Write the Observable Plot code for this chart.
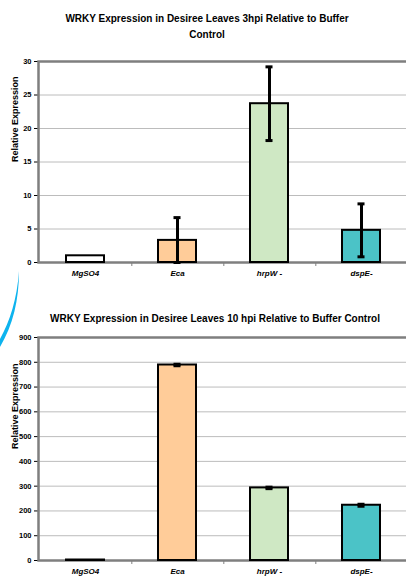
<!DOCTYPE html>
<html>
<head>
<meta charset="utf-8">
<script src="https://cdn.jsdelivr.net/npm/d3@7"></script>
<script src="https://cdn.jsdelivr.net/npm/@observablehq/plot@0.6"></script>
<style>
  html, body { margin: 0; padding: 0; background: #fff; overflow: hidden; }
  #root { position: relative; width: 406px; height: 579px; overflow: hidden; background: #fff;
          font-family: "Liberation Sans", Arial, sans-serif; }
  .title { position: absolute; text-align: center; font-weight: bold; font-size: 10px; color: #000; white-space: nowrap; }
  .chart { position: absolute; left: 0; width: 412px; }
</style>
</head>
<body>
<div id="root">
  <div class="title" style="left:0;width:414px;top:11px;line-height:16px;">WRKY Expression in Desiree Leaves 3hpi Relative to Buffer<br>Control</div>
  <div class="title" style="left:0;width:430px;top:313px;line-height:12px;">WRKY Expression in Desiree Leaves 10 hpi Relative to Buffer Control</div>
  <div id="c1" class="chart" style="top:50px"></div>
  <div id="c2" class="chart" style="top:326px"></div>
  <svg style="position:absolute;left:0;top:255px" width="40" height="100">
    <path d="M19,16 C19,45 13,70 0,92 L0,84 C10,66 17,44 19,16 Z" fill="#0db3ee"/>
  </svg>
</div>
<script>
const categories = ["MgSO4", "Eca", "hrpW -", "dspE-"];
const colors = ["#ffffff", "#ffcc99", "#cfe8c4", "#4bc3c7"];
const values3 = [1, 3.3, 23.7, 4.8];
const errors3 = [0, 3.4, 5.5, 3.95];
const values10 = [2, 789, 293, 223];
const errors10 = [0, 3, 3, 4];
const yTicks3 = [0, 5, 10, 15, 20, 25, 30];
const yTicks10 = [0, 100, 200, 300, 400, 500, 600, 700, 800, 900];

function build(values, errors, ticks, plotH) {
  const data = categories.map((c, i) => ({cat: c, v: values[i], e: errors[i], color: colors[i]}));
  const withErr = data.filter(d => d.e > 0);
  const width = 412, marginLeft = 38, marginRight = 3.5;
  const step = (width - marginLeft - marginRight) / categories.length;
  const capInset = (step * 0.41 - 7) / 2;
  const y0 = ticks[0];
  return Plot.plot({
    width, height: plotH + 31,
    marginLeft, marginRight, marginTop: 11, marginBottom: 20,
    style: {fontFamily: "'Liberation Sans', Arial, sans-serif", fontSize: "7.5px", fontWeight: "bold", color: "#000", maxWidth: "none"},
    x: {domain: categories, paddingInner: 0.59, paddingOuter: 0.295, axis: null},
    y: {domain: [y0, ticks[ticks.length - 1]], ticks, label: null, tickSize: 4, tickPadding: 3},
    marks: [
      Plot.gridY(ticks, {stroke: "#bcbcbc", strokeOpacity: 1, strokeWidth: 1}),
      Plot.frame({stroke: "#7f7f7f", strokeWidth: 2.5}),
      Plot.ruleX(categories.slice(0, -1), {x: d => d, dx: step / 2, y1: y0, y2: y0, insetBottom: -4, stroke: "#7f7f7f", strokeWidth: 1}),
      Plot.barY(data, {x: "cat", y: "v", fill: "color", stroke: "#000", strokeWidth: 2}),
      Plot.ruleX(withErr, {x: "cat", y1: d => Math.max(y0, d.v - d.e), y2: d => d.v + d.e, stroke: "#000", strokeWidth: 3}),
      Plot.tickY(withErr, {x: "cat", y: d => d.v + d.e, stroke: "#000", strokeWidth: 3, insetLeft: capInset, insetRight: capInset}),
      Plot.tickY(withErr, {x: "cat", y: d => Math.max(y0, d.v - d.e), stroke: "#000", strokeWidth: 3, insetLeft: capInset, insetRight: capInset}),
      Plot.text(categories, {x: d => d, frameAnchor: "bottom", lineAnchor: "middle", dy: 11, fontStyle: "italic", fontWeight: "bold", fontSize: 8, fill: "#000"}),
      Plot.text(["Relative Expression"], {frameAnchor: "left", dx: -23, rotate: -90, fontSize: 9, fontWeight: "bold", fill: "#000"})
    ]
  });
}

document.getElementById("c1").appendChild(build(values3, errors3, yTicks3, 201));
document.getElementById("c2").appendChild(build(values10, errors10, yTicks10, 223));
</script>
</body>
</html>
